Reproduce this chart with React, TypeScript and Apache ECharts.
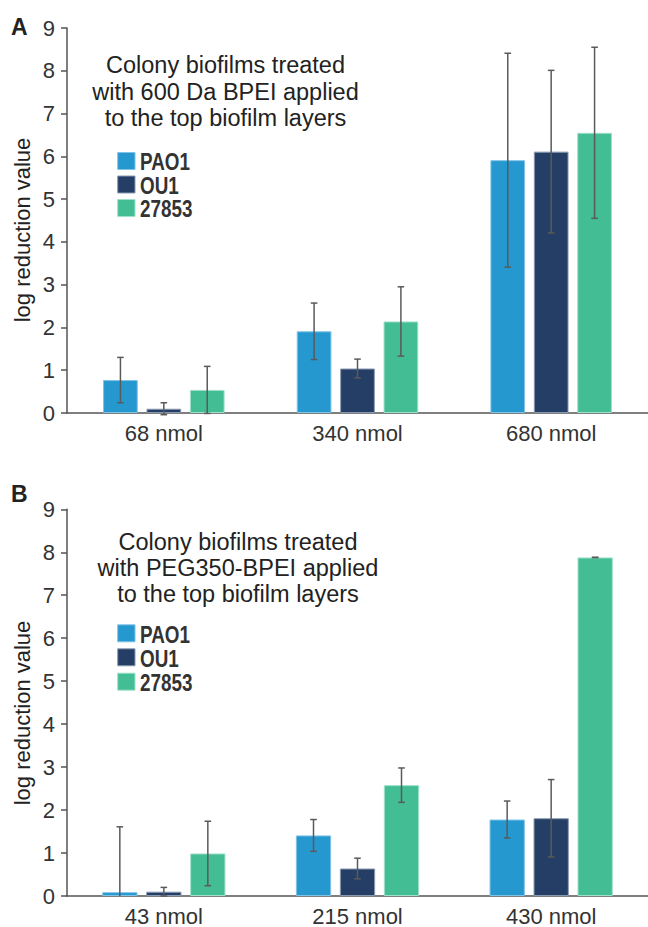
import React, { useEffect, useRef } from "react";
import * as echarts from "echarts";

const seriesNames = ["PAO1", "OU1", "27853"];
const colors = ["#2698D0", "#253E66", "#43BD94"];
const borderColors = ["#7fc3e6", "#8a9ab3", "#9ee0c8"];

const catsA = ["68 nmol", "340 nmol", "680 nmol"];
const catsB = ["43 nmol", "215 nmol", "430 nmol"];
const yTicks = [0, 1, 2, 3, 4, 5, 6, 7, 8, 9];

const A_PAO1 = [0.77, 1.91, 5.91];
const A_PAO1_err = [0.53, 0.66, 2.5];
const A_OU1 = [0.1, 1.04, 6.11];
const A_OU1_err = [0.14, 0.22, 1.9];
const A_27853 = [0.54, 2.14, 6.55];
const A_27853_err = [0.55, 0.81, 2.0];

const B_PAO1 = [0.09, 1.41, 1.78];
const B_PAO1_err = [1.52, 0.37, 0.43];
const B_OU1 = [0.1, 0.64, 1.81];
const B_OU1_err = [0.1, 0.24, 0.9];
const B_27853 = [0.99, 2.58, 7.88];
const B_27853_err = [0.75, 0.4, 0.0];

const titleA = "Colony biofilms treated\nwith 600 Da BPEI applied\nto the top biofilm layers";
const titleB = "Colony biofilms treated\nwith PEG350-BPEI applied\nto the top biofilm layers";
const yName = "log reduction value";

const FONT = "'Liberation Sans', Arial, Helvetica, sans-serif";

export default function App() {
  const ref = useRef<HTMLDivElement>(null);

  useEffect(() => {
    document.body.style.margin = "0";
    const chart = echarts.init(ref.current!, null, { renderer: "svg" });

    const panels = [
      { cats: catsA, means: [A_PAO1, A_OU1, A_27853], errs: [A_PAO1_err, A_OU1_err, A_27853_err], barW: 34.7, gap: 8.7 },
      { cats: catsB, means: [B_PAO1, B_OU1, B_27853], errs: [B_PAO1_err, B_OU1_err, B_27853_err], barW: 35.3, gap: 8.7 },
    ];

    const series: any[] = [];
    panels.forEach((p, pi) => {
      p.means.forEach((m, si) => {
        series.push({
          type: "bar",
          name: seriesNames[si],
          xAxisIndex: pi,
          yAxisIndex: pi,
          data: m,
          barWidth: p.barW,
          barGap: ((p.gap / p.barW) * 100).toFixed(1) + "%",
          itemStyle: { color: colors[si], borderColor: borderColors[si], borderWidth: 1 },
          z: 2,
        });
      });
      p.means.forEach((m, si) => {
        const offset = (si - 1) * (p.barW + p.gap);
        series.push({
          type: "custom",
          name: "err-" + pi + "-" + si,
          xAxisIndex: pi,
          yAxisIndex: pi,
          z: 5,
          data: m.map((v, i) => [i, v, p.errs[si][i]]),
          renderItem: (params: any, api: any) => {
            const x = api.value(0);
            const v = api.value(1);
            const e = api.value(2);
            let lo = v - e;
            let clipped = false;
            if (lo < -0.1) {
              lo = 0;
              clipped = true;
            }
            const top = api.coord([x, v + e]);
            const bot = api.coord([x, lo]);
            const cx = top[0] + offset;
            const cap = 3.3;
            const st = { stroke: "#5a5a5a", lineWidth: 1.5 };
            const children: any[] = [
              { type: "line", shape: { x1: cx, y1: top[1], x2: cx, y2: bot[1] }, style: st },
              { type: "line", shape: { x1: cx - cap, y1: top[1], x2: cx + cap, y2: top[1] }, style: st },
            ];
            if (!clipped) {
              children.push({ type: "line", shape: { x1: cx - cap, y1: bot[1], x2: cx + cap, y2: bot[1] }, style: st });
            }
            return { type: "group", children };
          },
        });
      });
    });

    const axisLineStyle = { color: "#555555", width: 1.5 };

    const yAxisCommon = {
      type: "value",
      min: 0,
      max: 9,
      interval: 1,
      axisLine: { show: true, lineStyle: axisLineStyle },
      axisTick: { show: true, length: 6, lineStyle: axisLineStyle },
      axisLabel: { fontSize: 22, color: "#333", fontFamily: FONT, margin: 12, formatter: (v: number) => (yTicks.includes(v) ? String(v) : "") },
      splitLine: { show: false },
    };

    const xAxisCommon = {
      type: "category",
      axisLine: { show: true, lineStyle: axisLineStyle },
      axisTick: { show: false },
      axisLabel: { fontSize: 22, color: "#333", fontFamily: FONT, margin: 9 },
    };

    const legendCentersA = [161, 184.5, 208];
    const legendCentersB = [633.3, 657.3, 681.7];
    const graphics: any[] = [];
    [legendCentersA, legendCentersB].forEach((centers) => {
      centers.forEach((cy, i) => {
        graphics.push({
          type: "rect",
          shape: { x: 117.7, y: cy - 8.5, width: 17.3, height: 17 },
          style: { fill: colors[i], stroke: borderColors[i], lineWidth: 1 },
        });
        graphics.push({
          type: "text",
          x: 140,
          y: cy + 1,
          scaleX: 0.82,
          style: { text: seriesNames[i], fontSize: 23, fontWeight: "bold", fill: "#333", fontFamily: FONT, verticalAlign: "middle", align: "left" },
        });
      });
    });
    [230, 713].forEach((cy) => {
      graphics.push({
        type: "text",
        x: 22,
        y: cy,
        rotation: Math.PI / 2,
        style: { text: yName, fontSize: 22, fill: "#222", fontFamily: FONT, align: "center", verticalAlign: "middle" },
      });
    });

    chart.setOption({
      animation: false,
      backgroundColor: "#ffffff",
      title: [
        { text: "A", left: 11, top: 15, padding: 0, textStyle: { fontSize: 23, fontWeight: "bold", color: "#222", fontFamily: FONT } },
        { text: "B", left: 11, top: 482, padding: 0, textStyle: { fontSize: 23, fontWeight: "bold", color: "#222", fontFamily: FONT } },
        { text: titleA, left: 225.5, top: 51.5, padding: 0, textAlign: "center", textStyle: { fontSize: 23.5, fontWeight: "normal", lineHeight: 26.7, color: "#222", fontFamily: FONT } },
        { text: titleB, left: 238, top: 528.5, padding: 0, textAlign: "center", textStyle: { fontSize: 23.5, fontWeight: "normal", lineHeight: 26.2, color: "#222", fontFamily: FONT } },
      ],
      grid: [
        { left: 67, top: 28, width: 583, height: 385 },
        { left: 67, top: 509.3, width: 596, height: 386.7 },
      ],
      xAxis: [
        { ...xAxisCommon, gridIndex: 0, data: catsA },
        { ...xAxisCommon, gridIndex: 1, data: catsB },
      ],
      yAxis: [
        { ...yAxisCommon, gridIndex: 0 },
        { ...yAxisCommon, gridIndex: 1 },
      ],
      graphic: graphics,
      series,
    });

    return () => chart.dispose();
  }, []);

  return <div ref={ref} style={{ width: 648, height: 927, position: "absolute", left: 0, top: 0 }} />;
}
